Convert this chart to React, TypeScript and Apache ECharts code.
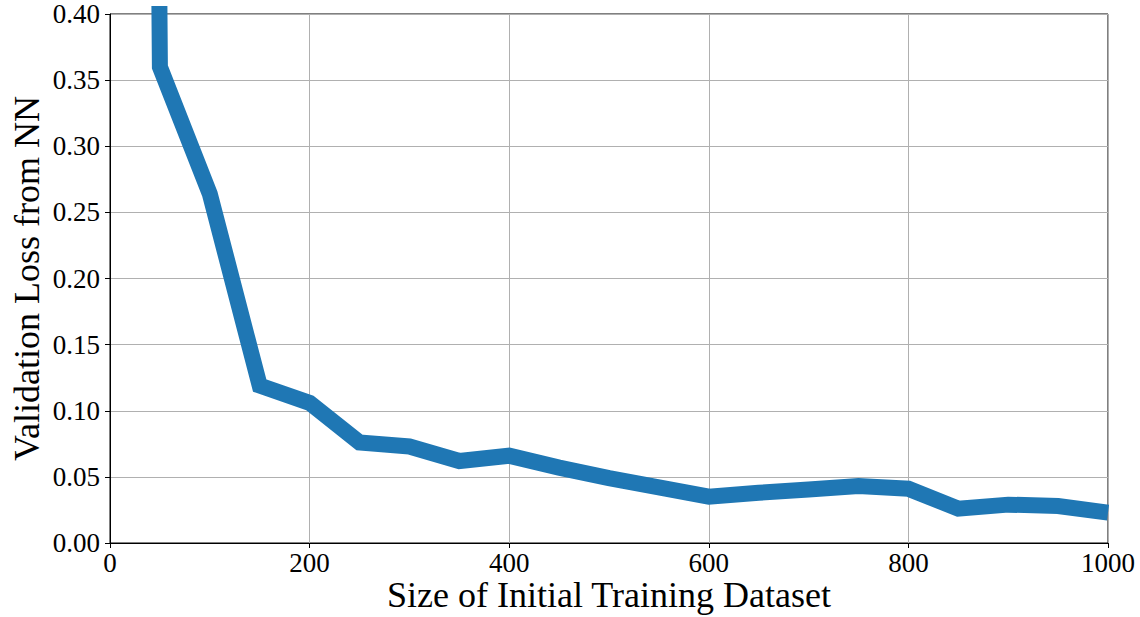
import React, { useEffect, useRef } from "react";
import * as echarts from "echarts";

const sizes = [0, 50, 100, 150, 200, 250, 300, 350, 400, 450, 500, 550, 600, 650, 700, 750, 800, 850, 900, 950, 1000];
const losses = [5.0, 0.36, 0.264, 0.119, 0.106, 0.076, 0.073, 0.062, 0.066, 0.057, 0.049, 0.042, 0.035, 0.038, 0.0405, 0.043, 0.041, 0.026, 0.029, 0.028, 0.023];
const xTitle = "Size of Initial Training Dataset";
const yTitle = "Validation Loss from NN";

const FONT = "'Liberation Serif', 'Times New Roman', serif";

export default function App() {
  const ref = useRef<HTMLDivElement>(null);
  useEffect(() => {
    if (!ref.current) return;
    const chart = echarts.init(ref.current, undefined, { renderer: "svg" });
    chart.setOption({
      animation: false,
      backgroundColor: "#ffffff",
      grid: {
        left: 110,
        right: 32,
        top: 14,
        bottom: 74,
        containLabel: false,
        outerBoundsMode: "none",
        show: true,
        borderColor: "#000000",
        borderWidth: 1,
        backgroundColor: "transparent",
      },
      xAxis: {
        type: "value",
        min: 0,
        max: 1000,
        interval: 200,
        name: xTitle,
        nameLocation: "middle",
        nameGap: 34,
        nameMoveOverlap: false,
        nameTextStyle: { fontFamily: FONT, fontSize: 36, color: "#000" },
        axisLine: { show: true, lineStyle: { color: "#000", width: 1 } },
        axisTick: { show: true, length: 5, lineStyle: { color: "#000" } },
        axisLabel: {
          fontFamily: FONT,
          fontSize: 27,
          color: "#000",
          margin: 6,
          formatter: (v: number) => String(v),
        },
        splitLine: { show: true, lineStyle: { color: "#b0b0b0", width: 1 } },
      },
      yAxis: {
        type: "value",
        min: 0,
        max: 0.4,
        interval: 0.05,
        name: yTitle,
        nameLocation: "middle",
        nameGap: 65,
        nameMoveOverlap: false,
        nameTextStyle: { fontFamily: FONT, fontSize: 36, color: "#000" },
        axisLine: { show: true, lineStyle: { color: "#000", width: 1 } },
        axisTick: { show: true, length: 5, lineStyle: { color: "#000" } },
        axisLabel: {
          fontFamily: FONT,
          fontSize: 27,
          color: "#000",
          margin: 10,
          formatter: (v: number) => v.toFixed(2),
        },
        splitLine: { show: true, lineStyle: { color: "#b0b0b0", width: 1 } },
      },
      series: [
        {
          type: "line",
          data: sizes.map((s, i) => [s, losses[i]]),
          showSymbol: false,
          symbol: "none",
          clip: true,
          lineStyle: { color: "#1f77b4", width: 16, join: "miter" },
        },
      ],
    });
    return () => chart.dispose();
  }, []);
  return (
    <div
      ref={ref}
      style={{ position: "fixed", left: 0, top: 0, width: 1140, height: 617 }}
    />
  );
}
